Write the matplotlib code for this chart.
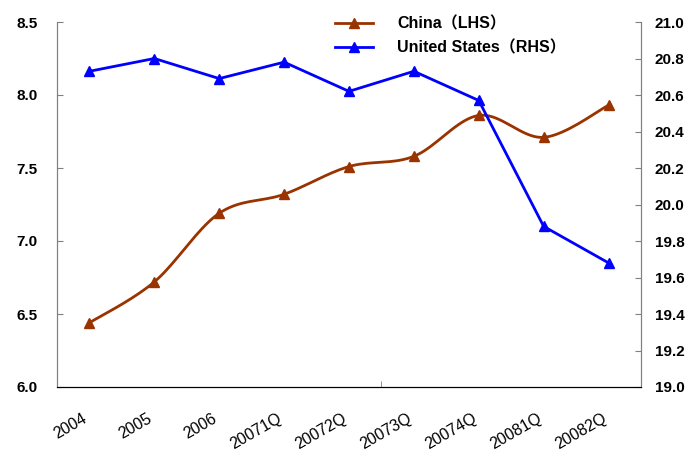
import matplotlib
matplotlib.use("Agg")
import matplotlib.pyplot as plt
import matplotlib.transforms as mtransforms
import numpy as np

categories = ["2004", "2005", "2006", "20071Q", "20072Q", "20073Q", "20074Q", "20081Q", "20082Q"]
china = [6.44, 6.72, 7.19, 7.32, 7.51, 7.58, 7.86, 7.71, 7.93]
us = [20.73, 20.80, 20.69, 20.78, 20.62, 20.73, 20.57, 19.88, 19.68]

BROWN = "#993300"
BLUE = "#0000FF"
FONT = ["Liberation Sans", "Noto Sans CJK SC", "DejaVu Sans"]
plt.rcParams["font.family"] = FONT


def smooth(x, y, n=20):
    # Catmull-Rom style smoothing, like Excel's smoothed line
    x = np.asarray(x, float)
    y = np.asarray(y, float)
    px = np.concatenate([[x[0]], x, [x[-1]]])
    py = np.concatenate([[y[0]], y, [y[-1]]])
    xs, ys = [], []
    t = np.linspace(0, 1, n)
    for i in range(1, len(px) - 2):
        p0, p1, p2, p3 = (np.array([px[j], py[j]]) for j in (i - 1, i, i + 1, i + 2))
        c1 = p1 + (p2 - p0) / 6
        c2 = p2 - (p3 - p1) / 6
        b = ((1 - t) ** 3)[:, None] * p1 + (3 * (1 - t) ** 2 * t)[:, None] * c1 \
            + (3 * (1 - t) * t ** 2)[:, None] * c2 + (t ** 3)[:, None] * p2
        xs.append(b[:, 0])
        ys.append(b[:, 1])
    return np.concatenate(xs), np.concatenate(ys)


fig = plt.figure(figsize=(6.93, 4.54), dpi=100)
ax = fig.add_axes([57 / 693, 1 - 387 / 454, 584 / 693, 365 / 454])
ax2 = ax.twinx()

x = np.arange(len(categories))
sx, sy = smooth(x, china)
ax.plot(sx, sy, color=BROWN, lw=2)
ax.plot(x, china, ls="none", marker="^", color=BROWN, ms=7)
l1, = ax.plot([], [], color=BROWN, lw=2, marker="^", ms=7)

ax2.plot(x, us, color=BLUE, lw=2, marker="^", ms=7)
l2, = ax2.plot([], [], color=BLUE, lw=2, marker="^", ms=7)

ax.set_xlim(-0.5, len(categories) - 0.5)
ax.set_ylim(6.0, 8.5)
ax.set_yticks(np.arange(6.0, 8.51, 0.5))
ax.set_yticklabels([f"{v:.1f}" for v in np.arange(6.0, 8.51, 0.5)], fontweight="bold", fontsize=11)
ax2.set_ylim(19.0, 21.0)
ax2.set_yticks(np.arange(19.0, 21.01, 0.2))
ax2.set_yticklabels([f"{v:.1f}" for v in np.arange(19.0, 21.01, 0.2)], fontweight="bold", fontsize=11)

ax.set_xticks(x)
ax.set_xticklabels(categories, rotation=30, ha="right", rotation_mode="anchor", fontsize=11.5)
ax.tick_params(axis="x", length=0, pad=17)
shift = mtransforms.ScaledTranslation(-7 / 100, 0, fig.dpi_scale_trans)
for lbl in ax.get_xticklabels():
    lbl.set_transform(lbl.get_transform() + shift)
ax.set_xticks([4.5], minor=True)
ax.tick_params(axis="x", which="minor", direction="in", length=4, color="#808080")
ax.tick_params(axis="y", direction="in", length=4, color="#808080", pad=14)
ax2.tick_params(axis="y", direction="in", length=4, color="#808080", pad=10)

for a in (ax, ax2):
    a.spines["top"].set_visible(False)
    a.spines["left"].set_color("#808080")
    a.spines["right"].set_color("#808080")
    a.spines["bottom"].set_color("#000000")

leg = ax.legend([l1, l2], ["China（LHS）", "United States（RHS）"], loc="upper left",
                bbox_to_anchor=((335 - 57) / 584, (387 - 16) / 365), frameon=False,
                borderaxespad=0, borderpad=0, handlelength=2.4,
                prop={"weight": "bold", "size": 11.5, "family": FONT}, labelspacing=0.55,
                handletextpad=1.5)
leg.set_zorder(10)

fig.savefig("out.png", dpi=100)
